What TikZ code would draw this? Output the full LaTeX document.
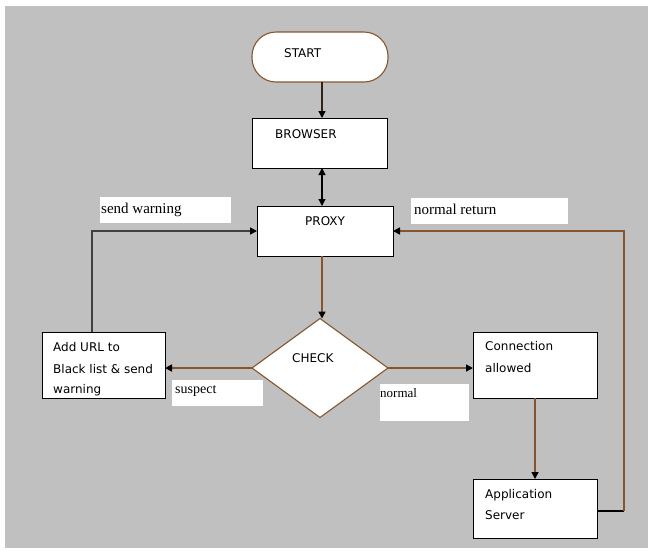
\documentclass[tikz,border=0pt]{standalone}
\usepackage{fontspec}
\setmainfont{Liberation Serif}
\newfontfamily\dvsans{DejaVu Sans}
\usetikzlibrary{shapes.geometric,arrows.meta}
\definecolor{bg}{RGB}{192,192,192}
\definecolor{brn}{RGB}{135,85,45}
\definecolor{dk}{RGB}{50,35,20}
\definecolor{gline}{RGB}{64,64,64}
\begin{document}
\begin{tikzpicture}[x=1pt,y=-1pt,
  box/.style={draw=black,fill=white,line width=1pt,anchor=north west,inner sep=0pt,outer sep=0pt},
  lab/.style={fill=white,anchor=north west,inner sep=0pt,outer sep=0pt},
  stxt/.style={font=\dvsans\fontsize{12}{14}\selectfont,inner sep=0pt,anchor=base west,text=black},
  rtxt/.style={font=\fontsize{15}{17}\selectfont,inner sep=0pt,anchor=base west},
  brnline/.style={draw=brn,line width=1.6pt},
  tip/.style={-{Triangle[length=7pt,width=7pt,color=black]}},
  dtip/.style={{Triangle[length=7pt,width=7pt,color=black]}-{Triangle[length=7pt,width=7pt,color=black]}}
]
\useasboundingbox (0,0) rectangle (648,550);
\fill[bg] (5,6) rectangle (648,548);

% nodes
\node[box,draw=brn,line width=1.1pt,rounded corners=24pt,minimum width=136pt,minimum height=50pt] (start) at (252,32) {};
\node[stxt] (tstart) at (284,57) {START};

\node[box,minimum width=135pt,minimum height=50pt] (browser) at (252,118) {};
\node[stxt] (tbrowser) at (275,138) {BROWSER};

\node[box,minimum width=136pt,minimum height=50pt] (proxy) at (257,206) {};
\node[stxt] (tproxy) at (305,225) {PROXY};

\node[diamond,draw=brn,fill=white,line width=1.1pt,minimum width=136pt,minimum height=99pt,inner sep=0pt,outer sep=0pt] (check) at (320,368) {};
\node[stxt] (tcheck) at (292,362) {CHECK};

\node[box,minimum width=123pt,minimum height=66pt] (addurl) at (42,332) {};
\node[stxt] (ta1) at (53,351) {Add URL to};
\node[stxt] (ta2) at (53,373) {Black list \& send};
\node[stxt] (ta3) at (53,393) {warning};

\node[box,minimum width=124pt,minimum height=66pt] (conn) at (473,332) {};
\node[stxt] (tc1) at (485,350) {Connection};
\node[stxt] (tc2) at (485,372) {allowed};

\node[box,minimum width=124pt,minimum height=59pt] (app) at (473,479) {};
\node[stxt] (tp1) at (485,498) {Application};
\node[stxt] (tp2) at (485,519) {Server};

% labels
\node[lab,minimum width=131pt,minimum height=26pt] (lsw) at (100,197) {};
\node[rtxt] (tsw) at (101,213) {send warning};
\node[lab,minimum width=157pt,minimum height=26pt] (lnr) at (411,198) {};
\node[rtxt] (tnr) at (414,214) {normal return};
\node[lab,minimum width=91pt,minimum height=26pt] (lsus) at (172,380) {};
\node[rtxt,font=\fontsize{14}{16}\selectfont] (tsus) at (175,393) {suspect};
\node[lab,minimum width=89pt,minimum height=37pt] (lnorm) at (380,384) {};
\node[rtxt,font=\fontsize{13}{15}\selectfont] (tnorm) at (380,397) {normal};

% connectors
\draw[dk,line width=1.4pt,tip] ([xshift=2pt]start.south) -- ([xshift=2pt]start.south |- browser.north);
\draw[black,line width=1.1pt,dtip] ([xshift=2.5pt]browser.south) -- ([xshift=2.5pt]browser.south |- proxy.north);
\draw[brnline,tip] ([xshift=-3pt]proxy.south) -- ([xshift=-3pt]proxy.south |- check.north);
\draw[brnline,tip] (check.west) -- (check.west -| addurl.east);
\draw[brnline,tip] (check.east) -- (check.east -| conn.west);
\draw[brnline,tip] (conn.south) -- (conn.south |- app.north);
\draw[gline,line width=1.4pt,tip] ([xshift=-11.5pt]addurl.north) |- (proxy.west);
\coordinate (ret) at (624,231);
\draw[black,line width=1.1pt] ([yshift=-2.5pt]app.east) -- ([yshift=-2.5pt]app.east -| ret);
\draw[brnline,tip] ([yshift=-2.5pt]app.east -| ret) -- (ret) -- (proxy.east);
\end{tikzpicture}
\end{document}
